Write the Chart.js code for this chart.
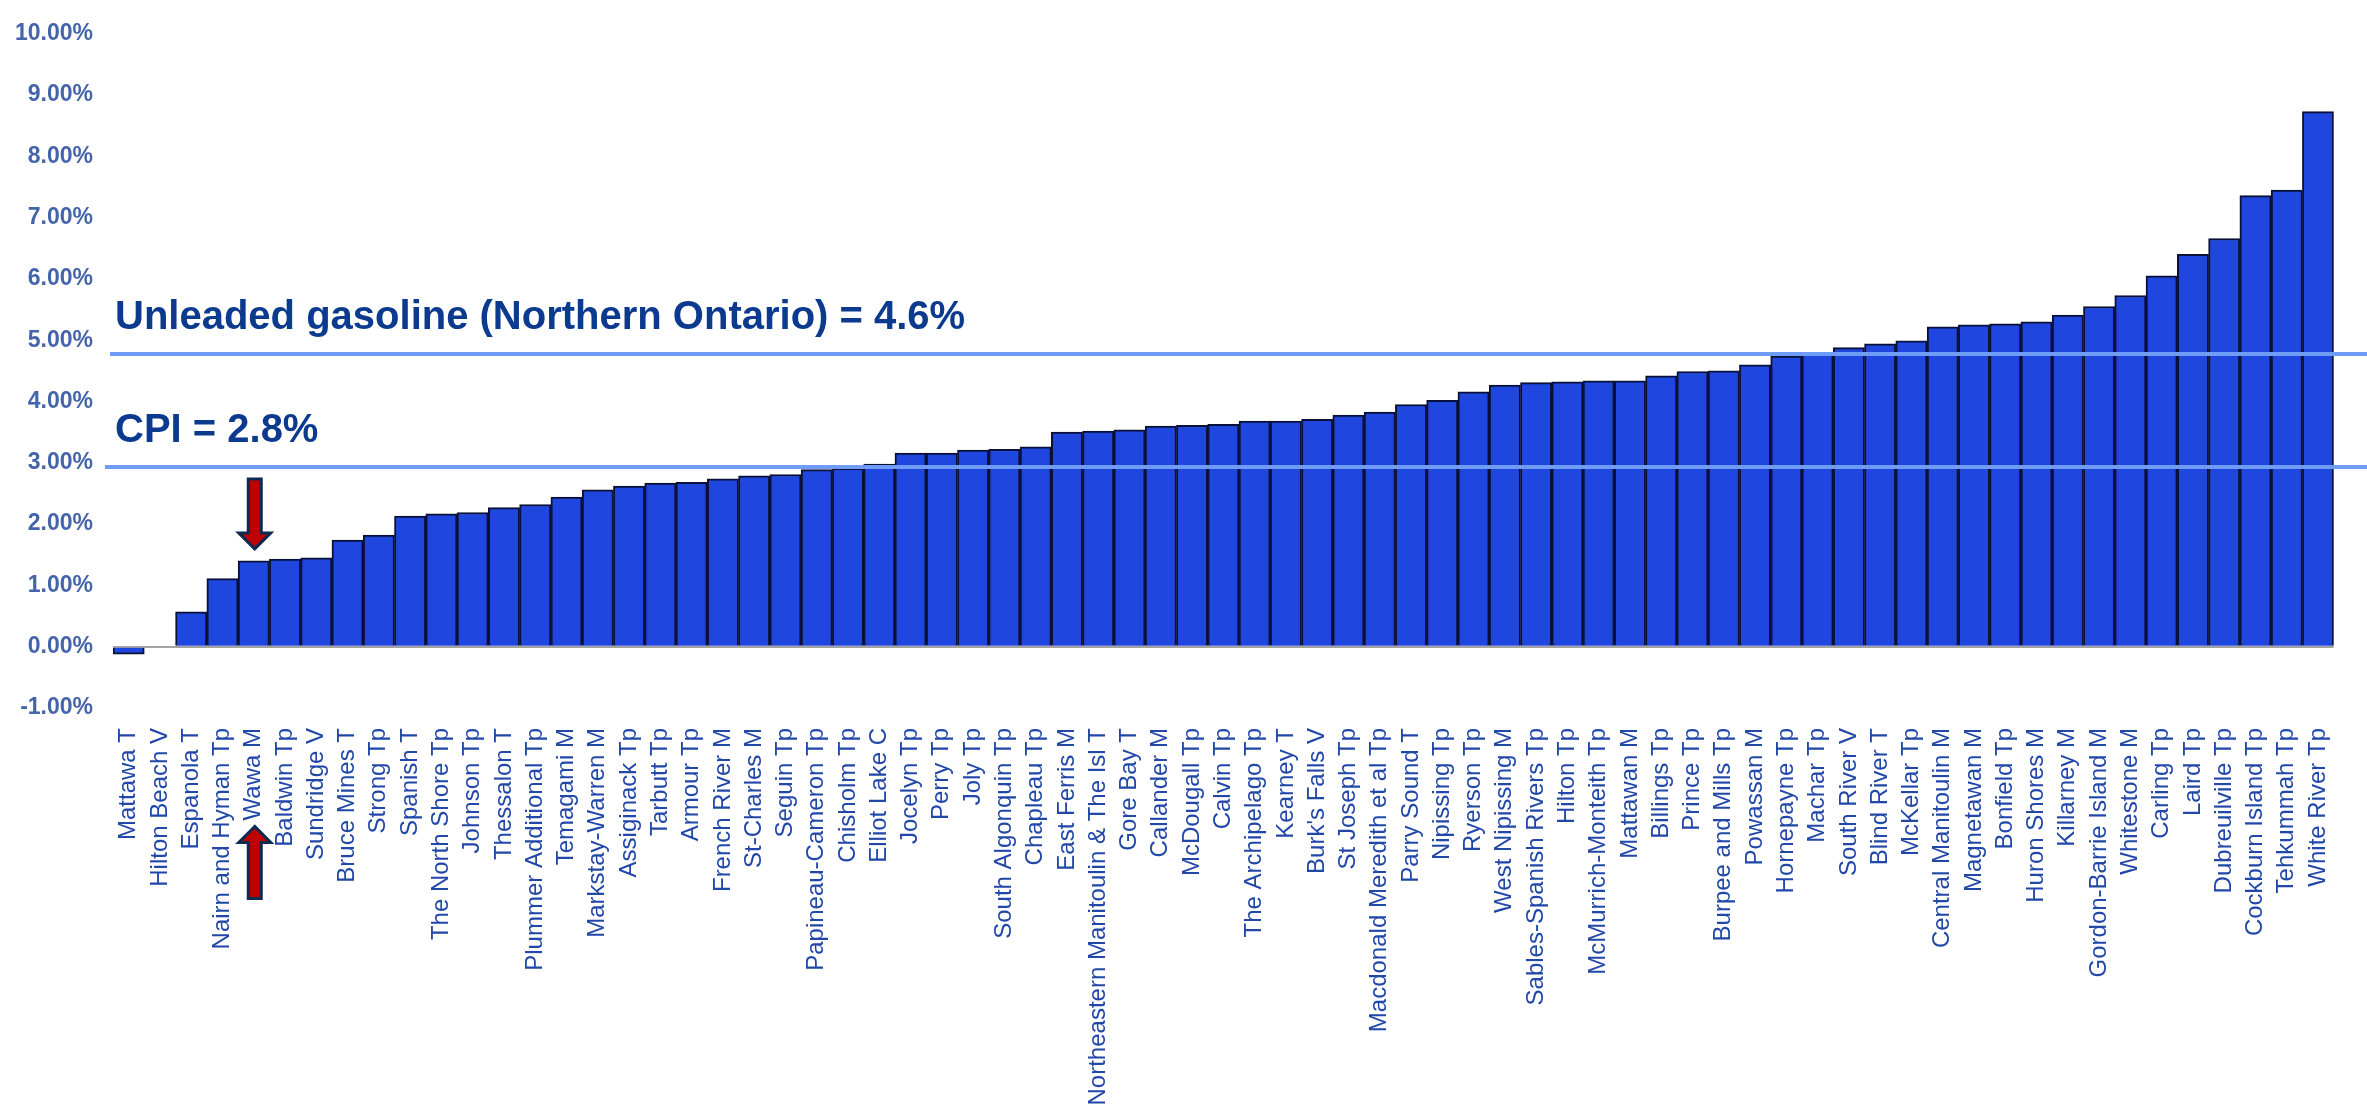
<!DOCTYPE html>
<html>
<head>
<meta charset="utf-8">
<script src="https://cdn.jsdelivr.net/npm/chart.js@4.4.0/dist/chart.umd.min.js"></script>
<style>
  html, body { margin: 0; padding: 0; background: #fff; }
  #wrap { position: relative; width: 2367px; height: 1104px; }
</style>
</head>
<body>
<div id="wrap"><canvas id="chart"></canvas></div>
<script>
// municipalities, sorted by % change
const municipalities = [
  "Mattawa T", "Hilton Beach V", "Espanola T", "Nairn and Hyman Tp", "Wawa M",
  "Baldwin Tp", "Sundridge V", "Bruce Mines T", "Strong Tp", "Spanish T",
  "The North Shore Tp", "Johnson Tp", "Thessalon T", "Plummer Additional Tp", "Temagami M",
  "Markstay-Warren M", "Assiginack Tp", "Tarbutt Tp", "Armour Tp", "French River M",
  "St-Charles M", "Seguin Tp", "Papineau-Cameron Tp", "Chisholm Tp", "Elliot Lake C",
  "Jocelyn Tp", "Perry Tp", "Joly Tp", "South Algonquin Tp", "Chapleau Tp",
  "East Ferris M", "Northeastern Manitoulin & The Isl T", "Gore Bay T", "Callander M", "McDougall Tp",
  "Calvin Tp", "The Archipelago Tp", "Kearney T", "Burk's Falls V", "St Joseph Tp",
  "Macdonald Meredith et al Tp", "Parry Sound T", "Nipissing Tp", "Ryerson Tp", "West Nipissing M",
  "Sables-Spanish Rivers Tp", "Hilton Tp", "McMurrich-Monteith Tp", "Mattawan M", "Billings Tp",
  "Prince Tp", "Burpee and Mills Tp", "Powassan M", "Hornepayne Tp", "Machar Tp",
  "South River V", "Blind River T", "McKellar Tp", "Central Manitoulin M", "Magnetawan M",
  "Bonfield Tp", "Huron Shores M", "Killarney M", "Gordon-Barrie Island M", "Whitestone M",
  "Carling Tp", "Laird Tp", "Dubreuilville Tp", "Cockburn Island Tp", "Tehkummah Tp",
  "White River Tp"
];

const changePct = [
  -0.12, 0.00, 0.57, 1.11, 1.40, 1.43, 1.45, 1.74, 1.82, 2.13,
  2.17, 2.19, 2.27, 2.32, 2.44, 2.56, 2.62, 2.67, 2.68, 2.74,
  2.79, 2.81, 2.89, 2.91, 2.98, 3.16, 3.16, 3.21, 3.22, 3.26,
  3.50, 3.52, 3.54, 3.60, 3.61, 3.63, 3.68, 3.68, 3.71, 3.78,
  3.83, 3.95, 4.02, 4.16, 4.27, 4.31, 4.32, 4.34, 4.34, 4.42,
  4.49, 4.50, 4.60, 4.74, 4.77, 4.88, 4.94, 4.99, 5.22, 5.25,
  5.27, 5.30, 5.41, 5.55, 5.73, 6.05, 6.40, 6.66, 7.36, 7.45,
  8.73
];

// reference lines (drawn where they sit in the original) and their captions
const refValues = [4.78, 2.93];
const refLabels = ["Unleaded gasoline (Northern Ontario) = 4.6%", "CPI = 2.8%"];

const yTickValues = [-1, 0, 1, 2, 3, 4, 5, 6, 7, 8, 9, 10];

const highlighted = "Wawa M";

const FONT = "'Liberation Sans', Arial, sans-serif";

const refLines = {
  id: "refLines",
  afterDatasetsDraw(chart) {
    const { ctx, chartArea, scales } = chart;
    ctx.save();
    refValues.forEach((v, i) => {
      const py = Math.round(scales.y.getPixelForValue(v));
      ctx.strokeStyle = "#6f9cf6";
      ctx.lineWidth = 4;
      ctx.beginPath();
      ctx.moveTo(chartArea.left - 3 - i * 5, py);
      ctx.lineTo(chart.width, py);
      ctx.stroke();

      ctx.fillStyle = "#0b3a8f";
      ctx.font = "bold 40px " + FONT;
      ctx.textBaseline = "alphabetic";
      ctx.textAlign = "left";
      ctx.fillText(refLabels[i], chartArea.left + 2, py - 25);
    });
    ctx.restore();
  }
};

function arrowPath(ctx, cx, tipY, dir, len) {
  // dir 1 = points down, -1 = points up
  const headH = 16, headW = 16, shaftW = 6.5;
  const baseY = tipY - dir * headH;
  const tailY = tipY - dir * len;
  ctx.beginPath();
  ctx.moveTo(cx, tipY);
  ctx.lineTo(cx - headW, baseY);
  ctx.lineTo(cx - shaftW, baseY);
  ctx.lineTo(cx - shaftW, tailY);
  ctx.lineTo(cx + shaftW, tailY);
  ctx.lineTo(cx + shaftW, baseY);
  ctx.lineTo(cx + headW, baseY);
  ctx.closePath();
}

const arrows = {
  id: "arrows",
  afterDraw(chart) {
    const { ctx, scales } = chart;
    const idx = municipalities.indexOf(highlighted);
    if (idx < 0) return;
    const cx = scales.x.getPixelForValue(idx) + 1;
    const barTop = scales.y.getPixelForValue(changePct[idx]);

    ctx.save();
    ctx.font = "24px " + FONT;
    const labelLen = ctx.measureText(highlighted).width;
    const labelEnd = scales.x.top + 20 + labelLen;

    ctx.fillStyle = "#c00000";
    ctx.strokeStyle = "#0d2a4f";
    ctx.lineWidth = 3;
    ctx.lineJoin = "miter";

    arrowPath(ctx, cx, barTop - 12, 1, 70);
    ctx.fill();
    ctx.stroke();

    arrowPath(ctx, cx, labelEnd + 6, -1, 72);
    ctx.fill();
    ctx.stroke();
    ctx.restore();
  }
};

new Chart(document.getElementById("chart"), {
  type: "bar",
  data: {
    labels: municipalities,
    datasets: [{
      data: changePct,
      backgroundColor: "#1f47e0",
      borderColor: "#0a1138",
      borderWidth: 2,
      categoryPercentage: 1,
      barPercentage: 1
    }]
  },
  options: {
    responsive: true,
    maintainAspectRatio: false,
    animation: false,
    layout: { padding: { left: 13, right: 21, top: 22, bottom: 0 } },
    plugins: {
      legend: { display: false },
      tooltip: { enabled: false }
    },
    scales: {
      x: {
        grid: { display: false, drawTicks: false },
        border: { display: false },
        ticks: {
          autoSkip: false,
          minRotation: 90,
          maxRotation: 90,
          padding: 20,
          color: "#2147a8",
          font: { family: FONT, size: 24 }
        },
        afterFit(scale) { scale.height = 396; }
      },
      y: {
        min: yTickValues[0],
        max: yTickValues[yTickValues.length - 1],
        afterBuildTicks(scale) {
          scale.ticks = yTickValues.map(v => ({ value: v }));
        },
        grid: {
          drawTicks: false,
          lineWidth: 2,
          color: c => (c.tick && c.tick.value === 0 ? "#a3a3a3" : "rgba(0,0,0,0)")
        },
        border: { display: false },
        ticks: {
          padding: 20,
          color: "#4464ab",
          font: { family: FONT, size: 23, weight: "bold" },
          callback: v => v.toFixed(2) + "%"
        },
        afterFit(scale) { scale.width = 100; }
      }
    }
  },
  plugins: [refLines, arrows]
});
</script>
</body>
</html>
